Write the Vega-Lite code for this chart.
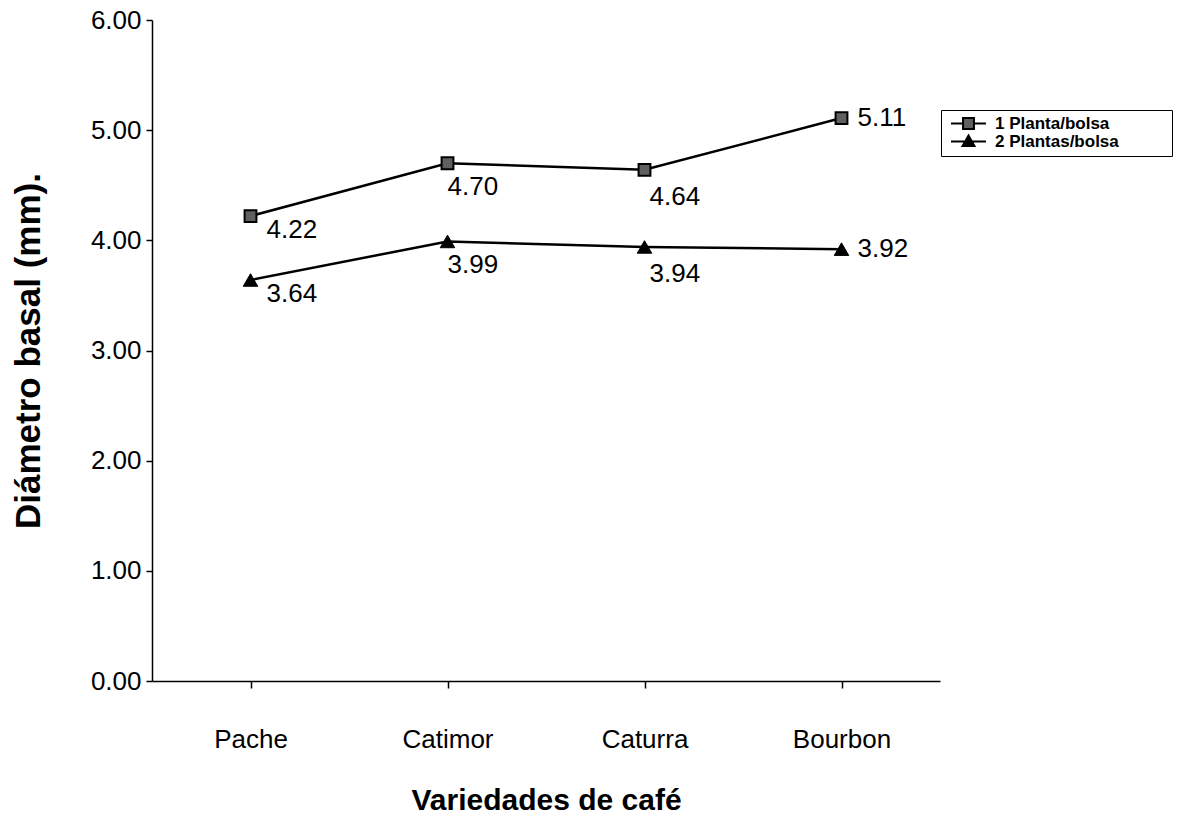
{
  "$schema": "https://vega.github.io/schema/vega-lite/v6.json",
  "width": 788,
  "height": 661,
  "autosize": {"type": "none"},
  "padding": {"left": 152, "top": 20, "right": 237, "bottom": 135},
  "background": "white",
  "config": {
    "view": {"stroke": null},
    "font": "Liberation Sans",
    "axis": {"domainColor": "black", "tickColor": "black", "labelColor": "black", "titleColor": "black", "grid": false, "domainWidth": 1.5, "tickWidth": 1.5},
    "legend": {"symbolStrokeWidth": 2}
  },
  "data": {
    "values": [
      {"variedad": "Pache", "serie": "1 Planta/bolsa", "valor": 4.22},
      {"variedad": "Catimor", "serie": "1 Planta/bolsa", "valor": 4.70},
      {"variedad": "Caturra", "serie": "1 Planta/bolsa", "valor": 4.64},
      {"variedad": "Bourbon", "serie": "1 Planta/bolsa", "valor": 5.11},
      {"variedad": "Pache", "serie": "2 Plantas/bolsa", "valor": 3.64},
      {"variedad": "Catimor", "serie": "2 Plantas/bolsa", "valor": 3.99},
      {"variedad": "Caturra", "serie": "2 Plantas/bolsa", "valor": 3.94},
      {"variedad": "Bourbon", "serie": "2 Plantas/bolsa", "valor": 3.92}
    ]
  },
  "encoding": {
    "x": {
      "field": "variedad", "type": "ordinal",
      "sort": ["Pache", "Catimor", "Caturra", "Bourbon"],
      "scale": {"type": "point", "padding": 0.5},
      "axis": {"title": "Variedades de café", "labelAngle": 0, "labelFontSize": 26, "labelPadding": 38, "tickSize": 7, "titleFontSize": 30, "titleFontWeight": "bold", "titlePadding": 33}
    },
    "y": {
      "field": "valor", "type": "quantitative",
      "scale": {"domain": [0, 6], "nice": false, "zero": true},
      "axis": {"title": "Diámetro basal (mm).", "values": [0, 1, 2, 3, 4, 5, 6], "format": ".2f", "labelFontSize": 26, "labelPadding": 5, "tickSize": 6, "titleFontSize": 35, "titleFontWeight": "bold", "titlePadding": 44}
    }
  },
  "layer": [
    {
      "mark": {"type": "line", "color": "black", "strokeWidth": 2.5},
      "encoding": {"detail": {"field": "serie"}}
    },
    {
      "transform": [{"filter": "datum.serie == '1 Planta/bolsa'"}],
      "mark": {"type": "point", "shape": "square", "size": 140, "filled": true, "fill": "#606060", "stroke": "black", "strokeWidth": 2, "opacity": 1}
    },
    {
      "transform": [{"filter": "datum.serie == '2 Plantas/bolsa'"}],
      "mark": {"type": "point", "shape": "triangle-up", "size": 210, "filled": true, "fill": "black", "stroke": "black", "strokeWidth": 1, "opacity": 1}
    },
    {
      "transform": [{"filter": "datum.valor < 0"}],
      "mark": {"type": "point", "strokeWidth": 2, "opacity": 1},
      "encoding": {
        "shape": {
          "field": "serie", "type": "nominal",
          "scale": {"domain": ["1 Planta/bolsa", "2 Plantas/bolsa"], "range": ["M-2.5,0H-0.78M0.78,0H2.5M-0.78,-0.78H0.78V0.78H-0.78Z", "M-2.5,0H2.5M0,-0.85L0.85,0.65H-0.85Z"]},
          "legend": {
            "title": null, "orient": "none", "legendX": 789, "legendY": 90,
            "strokeColor": "black", "fillColor": "white", "padding": 5,
            "symbolSize": 196, "symbolOffset": 14, "labelOffset": 18, "rowPadding": -3,
            "symbolStrokeWidth": 2, "symbolOpacity": 1,
            "labelFont": "Liberation Sans", "labelFontSize": 17, "labelFontWeight": "bold", "labelColor": "black",
            "labelExpr": "datum.label + '\u2800\u2800\u2800\u2800'", "labelLimit": 400
          }
        },
        "fill": {
          "field": "serie", "type": "nominal",
          "scale": {"domain": ["1 Planta/bolsa", "2 Plantas/bolsa"], "range": ["#606060", "black"]},
          "legend": {
            "title": null, "orient": "none", "legendX": 789, "legendY": 90,
            "strokeColor": "black", "fillColor": "white", "padding": 5,
            "symbolSize": 196, "symbolOffset": 14, "labelOffset": 18, "rowPadding": -3,
            "symbolStrokeWidth": 2, "symbolOpacity": 1,
            "labelFont": "Liberation Sans", "labelFontSize": 17, "labelFontWeight": "bold", "labelColor": "black",
            "labelExpr": "datum.label + '\u2800\u2800\u2800\u2800'", "labelLimit": 400
          }
        },
        "stroke": {
          "field": "serie", "type": "nominal",
          "scale": {"domain": ["1 Planta/bolsa", "2 Plantas/bolsa"], "range": ["black", "black"]},
          "legend": {
            "title": null, "orient": "none", "legendX": 789, "legendY": 90,
            "strokeColor": "black", "fillColor": "white", "padding": 5,
            "symbolSize": 196, "symbolOffset": 14, "labelOffset": 18, "rowPadding": -3,
            "symbolStrokeWidth": 2, "symbolOpacity": 1,
            "labelFont": "Liberation Sans", "labelFontSize": 17, "labelFontWeight": "bold", "labelColor": "black",
            "labelExpr": "datum.label + '\u2800\u2800\u2800\u2800'", "labelLimit": 400
          }
        }
      }
    },
    {
      "transform": [{"filter": "datum.variedad == 'Pache'"}],
      "mark": {"type": "text", "align": "left", "baseline": "middle", "dx": 16, "dy": 14, "fontSize": 26, "color": "black"},
      "encoding": {"text": {"field": "valor", "format": ".2f"}}
    },
    {
      "transform": [{"filter": "datum.variedad == 'Catimor'"}],
      "mark": {"type": "text", "align": "left", "baseline": "middle", "dx": 0, "dy": 24, "fontSize": 26, "color": "black"},
      "encoding": {"text": {"field": "valor", "format": ".2f"}}
    },
    {
      "transform": [{"filter": "datum.variedad == 'Caturra'"}],
      "mark": {"type": "text", "align": "left", "baseline": "middle", "dx": 5, "dy": 27, "fontSize": 26, "color": "black"},
      "encoding": {"text": {"field": "valor", "format": ".2f"}}
    },
    {
      "transform": [{"filter": "datum.variedad == 'Bourbon'"}],
      "mark": {"type": "text", "align": "left", "baseline": "middle", "dx": 16, "dy": 0, "fontSize": 26, "color": "black"},
      "encoding": {"text": {"field": "valor", "format": ".2f"}}
    }
  ]
}
